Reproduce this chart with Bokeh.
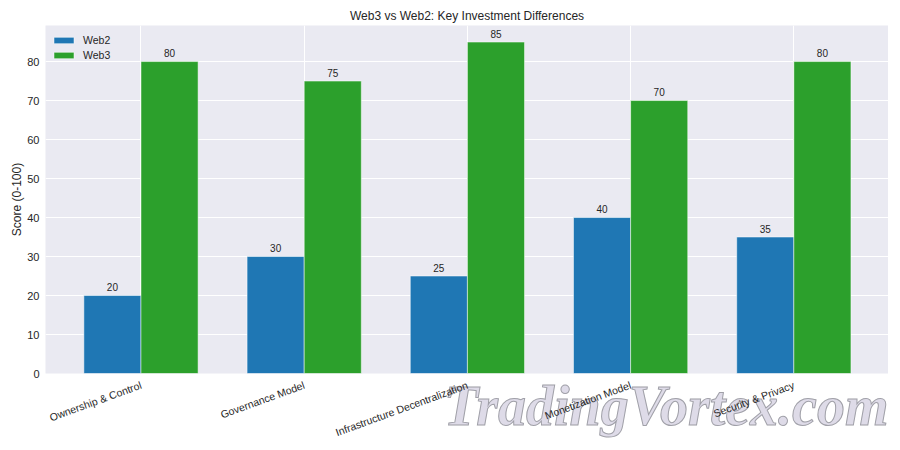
from bokeh.plotting import figure
from bokeh.models import ColumnDataSource, FixedTicker, Legend, LegendItem, Title, Range1d
from bokeh.core.properties import value
from bokeh.embed import file_html
from bokeh.resources import INLINE
import numpy as np

categories = ["Ownership & Control", "Governance Model", "Infrastructure Decentralization", "Monetization Model", "Security & Privacy"]
web2 = [20, 30, 25, 40, 35]
web3 = [80, 75, 85, 70, 80]
yticks = [0, 10, 20, 30, 40, 50, 60, 70, 80]

FONT = "Liberation Sans"
TXT = "#262626"
BW = 0.35
idx = np.arange(len(categories))

p = figure(width=888, height=442, output_backend="svg", toolbar_location=None,
           x_range=Range1d(-0.585, 4.58), y_range=Range1d(0, 89.25),
           frame_width=843, frame_height=348,
           min_border_left=45, min_border_right=0, min_border_top=25, min_border_bottom=69,
           background_fill_color="#eaeaf2", border_fill_color="white",
           title="Web3 vs Web2: Key Investment Differences")
p.title.align = "center"
p.title.text_font = FONT
p.title.text_font_size = "12px"
p.title.text_font_style = "normal"
p.title.text_color = TXT
p.title.offset = 0
p.title.standoff = 5
p.outline_line_color = None

p.xgrid.ticker = FixedTicker(ticks=list(idx))
p.ygrid.ticker = FixedTicker(ticks=yticks)
p.grid.grid_line_color = "white"
p.grid.grid_line_width = 1

p.xaxis.ticker = FixedTicker(ticks=list(idx))
p.xaxis.major_label_overrides = {int(i): c for i, c in zip(idx, categories)}
p.xaxis.major_label_orientation = np.deg2rad(20)
p.yaxis.ticker = FixedTicker(ticks=yticks)
p.yaxis.axis_label = "Score (0-100)"
for ax in (p.xaxis, p.yaxis):
    ax.axis_line_color = None
    ax.major_tick_line_color = None
    ax.minor_tick_line_color = None
    ax.major_tick_out = 0
    ax.major_tick_in = 0
    ax.major_label_text_font = FONT
    ax.major_label_text_color = TXT
    ax.level = "annotation"
p.xaxis.major_label_text_font_size = "10.5px"
p.yaxis.major_label_text_font_size = "11px"
p.xaxis.major_label_standoff = 11
p.yaxis.major_label_standoff = 6
p.yaxis.axis_label_text_font = FONT
p.yaxis.axis_label_text_font_size = "12px"
p.yaxis.axis_label_text_font_style = "normal"
p.yaxis.axis_label_text_color = TXT
p.yaxis.axis_label_standoff = 0

wm = Title(text="TradingVortex.com", align="right", vertical_align="top", offset=0, standoff=-144, level="guide",
           text_font="Liberation Serif", text_font_style="bold italic", text_font_size="56px",
           text_color="#dedbe8", text_outline_color="#a0a0a8")
p.add_layout(wm, "below")

src2 = ColumnDataSource(dict(x=idx - BW / 2, y=web2, t=[str(v) for v in web2]))
src3 = ColumnDataSource(dict(x=idx + BW / 2, y=web3, t=[str(v) for v in web3]))
r2 = p.vbar(x="x", top="y", width=BW, source=src2, fill_color="#1f77b4", line_color="white", line_width=0.5)
r3 = p.vbar(x="x", top="y", width=BW, source=src3, fill_color="#2ca02c", line_color="white", line_width=0.5)
for s in (src2, src3):
    p.text(x="x", y="y", text="t", source=s, text_align="center", text_baseline="bottom", y_offset=-4.5,
           text_font=value(FONT), text_font_size="10px", text_color=TXT)

leg = Legend(items=[LegendItem(label="Web2", renderers=[r2]), LegendItem(label="Web3", renderers=[r3])],
             location=(6, 312), border_line_color=None, background_fill_alpha=0,
             glyph_width=25, glyph_height=8, label_text_font=FONT, label_text_font_size="10.5px",
             label_text_color=TXT, label_standoff=7, spacing=3, margin=0, padding=5)
p.add_layout(leg)

open("out.html", "w").write(file_html(p, INLINE))
